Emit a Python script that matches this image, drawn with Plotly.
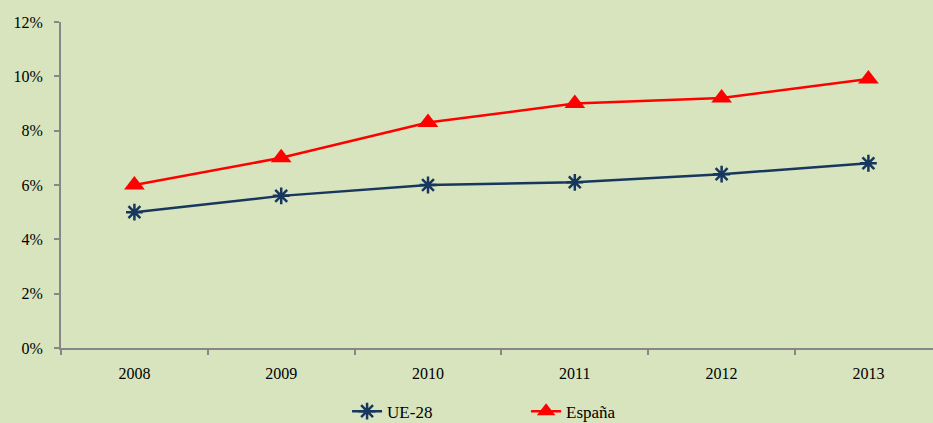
import plotly.graph_objects as go

years = ['2008', '2009', '2010', '2011', '2012', '2013']
ue28 = [5.0, 5.6, 6.0, 6.1, 6.4, 6.8]
espana = [6.0, 7.0, 8.3, 9.0, 9.2, 9.9]

bg = '#D7E4BD'
axis_col = '#878787'

fig = go.Figure()
fig.add_trace(go.Scatter(
    x=years, y=[v / 100 for v in ue28], name='UE-28', mode='lines+markers',
    line=dict(color='#17375E', width=2.5),
    marker=dict(symbol='asterisk-open', size=14, line=dict(color='#17375E', width=2.5)),
))
fig.add_trace(go.Scatter(
    x=years, y=[v / 100 for v in espana], name='España', mode='lines+markers',
    line=dict(color='#FF0000', width=2.5),
    marker=dict(symbol='triangle-up', size=18, color='#FF0000'),
))

fig.update_layout(
    width=933, height=423,
    paper_bgcolor=bg, plot_bgcolor=bg,
    margin=dict(l=61, r=0, t=22, b=75),
    font=dict(family='Liberation Serif, serif', size=16, color='#000000'),
    showlegend=True,
    legend=dict(orientation='h', xref='container', yref='container',
                x=0.372, xanchor='left', y=0.027, yanchor='middle',
                font=dict(size=17), entrywidth=134, entrywidthmode='pixels',
                bgcolor='rgba(0,0,0,0)'),
)
fig.update_xaxes(
    type='category', range=[-0.5, 5.44], tickson='boundaries',
    showline=True, linecolor=axis_col, linewidth=2,
    ticks='outside', ticklen=5, tickcolor=axis_col, tickwidth=2,
    ticklabelstandoff=10,
    showgrid=False, zeroline=False,
)
fig.update_yaxes(
    range=[0, 0.12], dtick=0.02, tickformat='.0%',
    showline=True, linecolor=axis_col, linewidth=2,
    ticks='outside', ticklen=5, tickcolor=axis_col, tickwidth=2,
    ticklabelstandoff=8,
    showgrid=False, zeroline=False,
)

fig.write_html('out.html', config={'displayModeBar': False},
               post_script="document.body.style.margin='0';document.body.style.overflow='hidden';")
